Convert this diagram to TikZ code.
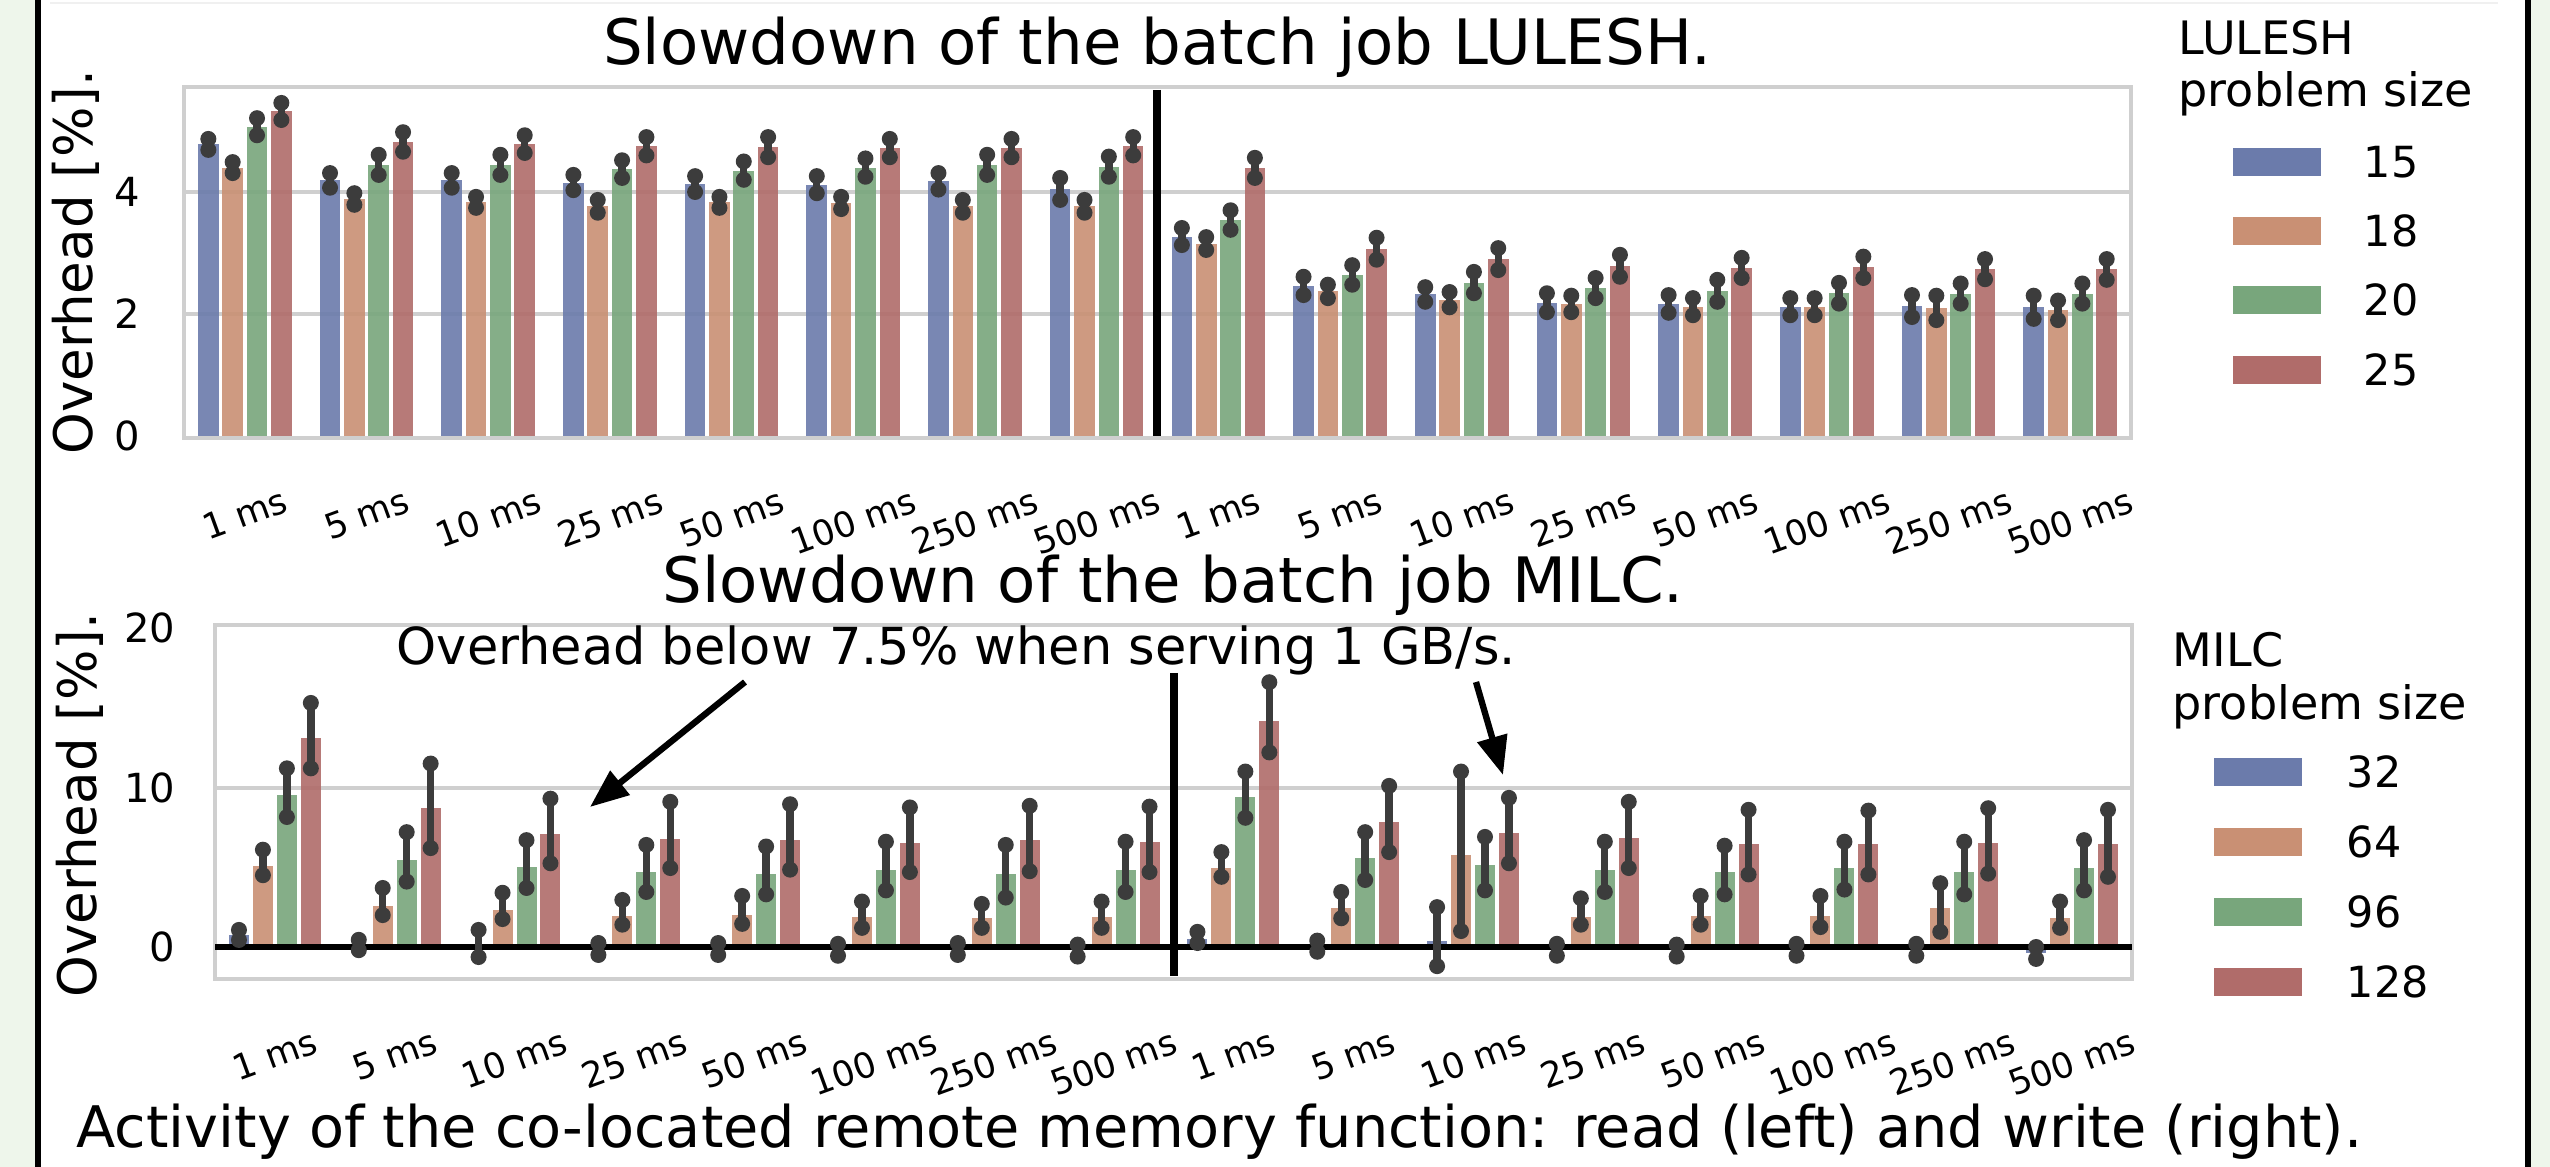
\documentclass[tikz,border=0pt]{standalone}
\usepackage{graphicx}
\usepackage{fontspec}
\setmainfont{DejaVu Sans}
\usetikzlibrary{arrows.meta}

\definecolor{barblue}{HTML}{6B7BAB}
\definecolor{barorange}{HTML}{C99074}
\definecolor{bargreen}{HTML}{78A67C}
\definecolor{barred}{HTML}{B06C6A}
\definecolor{errgray}{HTML}{3C3C3C}
\definecolor{gridgray}{HTML}{CFCFCF}
\definecolor{pagegreen}{HTML}{EEF6EB}

\tikzset{
  bar0/.style={fill=barblue},
  bar1/.style={fill=barorange},
  bar2/.style={fill=bargreen},
  bar3/.style={fill=barred},
  axframe/.style={draw=gridgray, line width=1.15pt},
  gridline/.style={gridgray, line width=1.15pt},
  errbar/.style={errgray, line width=2.1pt},
  divider/.style={black, line width=2.3pt},
  plottitle/.style={font=\fontsize{17.8}{20}\selectfont, inner sep=0pt, anchor=base},
  ylab/.style={font=\fontsize{15.1}{18}\selectfont, inner sep=0pt, rotate=90},
  ytick/.style={font=\fontsize{11.4}{13}\selectfont, inner sep=0pt, anchor=east},
  xtick/.style={font=\fontsize{10}{12}\selectfont, inner sep=0pt, anchor=north},
  legtitle/.style={font=\fontsize{13.1}{15}\selectfont, inner sep=0pt, anchor=base west},
  legtext/.style={font=\fontsize{12.2}{14}\selectfont, inner sep=0pt, anchor=west},
  legpatch/.style={minimum width=0.88cm, minimum height=0.28cm, inner sep=0pt},
  note/.style={font=\fontsize{14.5}{17}\selectfont, inner sep=0pt, anchor=base west},
  pointer/.style={black, line width=1.8pt, -{Triangle[length=11pt, width=8.5pt]}},
}

\begin{document}
\begin{tikzpicture}[x=0.01cm, y=-0.01cm]
  % page and side rules
  \fill[pagegreen] (0,0) rectangle (2550,1167);
  \fill[white] (40,0) rectangle (2525,1167);
  \fill[black] (35,0) rectangle (40.5,1167);
  \fill[black] (2525,0) rectangle (2530.5,1167);
  \draw[gray!12, line width=0.6pt] (50,3) -- (2498,3);

  % ---- LULESH axes
  \draw[gridline] (184,314) -- (2131,314);
  \draw[gridline] (184,192) -- (2131,192);
  \draw[axframe] (184,87) rectangle (2131,438);
  \foreach \lo/\hi [count=\k from 0] in {
      4.69/4.87, 4.31/4.49, 4.93/5.21, 5.18/5.46,
      4.07/4.31, 3.79/3.98, 4.28/4.61, 4.66/4.98,
      4.07/4.31, 3.74/3.92, 4.28/4.61, 4.64/4.93,
      4.03/4.28, 3.66/3.87, 4.23/4.52, 4.60/4.90,
      4.00/4.26, 3.74/3.92, 4.20/4.50, 4.57/4.90,
      3.98/4.26, 3.72/3.92, 4.25/4.55, 4.57/4.87,
      4.04/4.31, 3.66/3.87, 4.28/4.61, 4.57/4.87,
      3.87/4.23, 3.66/3.87, 4.25/4.58, 4.60/4.90,
      3.13/3.41, 3.05/3.26, 3.38/3.70, 4.23/4.56,
      2.31/2.61, 2.26/2.48, 2.48/2.80, 2.89/3.25,
      2.20/2.44, 2.11/2.36, 2.34/2.69, 2.72/3.08,
      2.03/2.34, 2.03/2.30, 2.26/2.59, 2.61/2.97,
      2.02/2.31, 1.98/2.26, 2.20/2.56, 2.59/2.92,
      1.98/2.26, 1.98/2.26, 2.17/2.51, 2.59/2.94,
      1.95/2.31, 1.90/2.30, 2.17/2.50, 2.57/2.90,
      1.92/2.30, 1.90/2.22, 2.17/2.50, 2.56/2.90} {
    \pgfmathtruncatemacro{\grp}{int(\k/4)}
    \pgfmathtruncatemacro{\idx}{\k-4*\grp}
    \pgfmathsetmacro{\xc}{184+(\grp+0.5)*121.69+(\idx-1.5)*24.34}
    \pgfmathsetmacro{\ytop}{436-61*(\lo+\hi)/2}
    \fill[bar\idx, fill opacity=0.9] (\xc-10.3,436) rectangle (\xc+10.3,\ytop);
    \draw[errbar] (\xc,{436-61*\lo}) -- (\xc,{436-61*\hi});
    \fill[errgray] (\xc,{436-61*\lo}) circle[radius=0.08cm];
    \fill[errgray] (\xc,{436-61*\hi}) circle[radius=0.08cm];
  }
  \draw[divider] (1157,90) -- (1157,436);

  \node[plottitle] (titleA) at (1157,65) {Slowdown of the batch job LULESH.};
  \node[ylab] (ylabA) at (76,262) {Overhead [\%].};
  \node[ytick] (tickA0) at (141,436) {0};
  \node[ytick] (tickA2) at (141,314) {2};
  \node[ytick] (tickA4) at (141,192) {4};

  % ---- MILC axes
  \draw[gridline] (215,788) -- (2132,788);
  \draw[axframe] (215,625) rectangle (2132,979);
  \foreach \m/\lo/\hi [count=\k from 0] in {
      0.75/0.44/1.07, 5.10/4.50/6.10, 9.50/8.15/11.2, 13.1/11.2/15.3,
      0.10/-0.2/0.45, 2.60/2.00/3.70, 5.45/4.10/7.20, 8.70/6.20/11.5,
      0.20/-0.63/1.07, 2.30/1.75/3.40, 5.00/3.70/6.70, 7.10/5.25/9.30,
      -0.1/-0.5/0.25, 1.95/1.40/2.95, 4.70/3.45/6.40, 6.80/4.95/9.10,
      -0.1/-0.5/0.25, 2.00/1.45/3.20, 4.55/3.30/6.30, 6.70/4.85/8.95,
      -0.15/-0.55/0.2, 1.85/1.20/2.85, 4.85/3.55/6.60, 6.50/4.70/8.75,
      -0.1/-0.5/0.25, 1.80/1.20/2.70, 4.55/3.10/6.40, 6.70/4.75/8.85,
      -0.2/-0.6/0.15, 1.90/1.20/2.85, 4.85/3.45/6.60, 6.60/4.70/8.80,
      0.50/0.25/0.95, 4.95/4.40/5.95, 9.40/8.10/11.0, 14.2/12.2/16.6,
      0.05/-0.3/0.40, 2.45/1.80/3.45, 5.55/4.20/7.20, 7.85/5.95/10.1,
      0.40/-1.2/2.50, 5.75/1.00/11.0, 5.15/3.55/6.90, 7.15/5.25/9.35,
      -0.15/-0.55/0.2, 1.90/1.40/3.05, 4.80/3.45/6.60, 6.85/4.95/9.10,
      -0.2/-0.6/0.15, 1.95/1.40/3.20, 4.70/3.30/6.35, 6.45/4.55/8.60,
      -0.15/-0.55/0.2, 1.95/1.25/3.20, 4.95/3.60/6.60, 6.45/4.55/8.55,
      -0.15/-0.55/0.2, 2.45/0.95/4.00, 4.70/3.30/6.60, 6.55/4.60/8.70,
      -0.35/-0.75/0.0, 1.80/1.20/2.85, 4.95/3.55/6.70, 6.45/4.40/8.60} {
    \pgfmathtruncatemacro{\grp}{int(\k/4)}
    \pgfmathtruncatemacro{\idx}{\k-4*\grp}
    \pgfmathsetmacro{\xc}{215+(\grp+0.5)*119.81+(\idx-1.5)*23.96}
    \fill[bar\idx, fill opacity=0.9] (\xc-10,947) rectangle (\xc+10,{947-15.95*\m});
  }
  \draw[black, line width=1.7pt] (215,947) -- (2132,947);
  \foreach \m/\lo/\hi [count=\k from 0] in {
      0.75/0.44/1.07, 5.10/4.50/6.10, 9.50/8.15/11.2, 13.1/11.2/15.3,
      0.10/-0.2/0.45, 2.60/2.00/3.70, 5.45/4.10/7.20, 8.70/6.20/11.5,
      0.20/-0.63/1.07, 2.30/1.75/3.40, 5.00/3.70/6.70, 7.10/5.25/9.30,
      -0.1/-0.5/0.25, 1.95/1.40/2.95, 4.70/3.45/6.40, 6.80/4.95/9.10,
      -0.1/-0.5/0.25, 2.00/1.45/3.20, 4.55/3.30/6.30, 6.70/4.85/8.95,
      -0.15/-0.55/0.2, 1.85/1.20/2.85, 4.85/3.55/6.60, 6.50/4.70/8.75,
      -0.1/-0.5/0.25, 1.80/1.20/2.70, 4.55/3.10/6.40, 6.70/4.75/8.85,
      -0.2/-0.6/0.15, 1.90/1.20/2.85, 4.85/3.45/6.60, 6.60/4.70/8.80,
      0.50/0.25/0.95, 4.95/4.40/5.95, 9.40/8.10/11.0, 14.2/12.2/16.6,
      0.05/-0.3/0.40, 2.45/1.80/3.45, 5.55/4.20/7.20, 7.85/5.95/10.1,
      0.40/-1.2/2.50, 5.75/1.00/11.0, 5.15/3.55/6.90, 7.15/5.25/9.35,
      -0.15/-0.55/0.2, 1.90/1.40/3.05, 4.80/3.45/6.60, 6.85/4.95/9.10,
      -0.2/-0.6/0.15, 1.95/1.40/3.20, 4.70/3.30/6.35, 6.45/4.55/8.60,
      -0.15/-0.55/0.2, 1.95/1.25/3.20, 4.95/3.60/6.60, 6.45/4.55/8.55,
      -0.15/-0.55/0.2, 2.45/0.95/4.00, 4.70/3.30/6.60, 6.55/4.60/8.70,
      -0.35/-0.75/0.0, 1.80/1.20/2.85, 4.95/3.55/6.70, 6.45/4.40/8.60} {
    \pgfmathtruncatemacro{\grp}{int(\k/4)}
    \pgfmathtruncatemacro{\idx}{\k-4*\grp}
    \pgfmathsetmacro{\xc}{215+(\grp+0.5)*119.81+(\idx-1.5)*23.96}
    \draw[errbar] (\xc,{947-15.95*\lo}) -- (\xc,{947-15.95*\hi});
    \fill[errgray] (\xc,{947-15.95*\lo}) circle[radius=0.08cm];
    \fill[errgray] (\xc,{947-15.95*\hi}) circle[radius=0.08cm];
  }
  \draw[divider] (1174,673) -- (1174,976);

  \node[plottitle] (titleB) at (1173,603) {Slowdown of the batch job MILC.};
  \node[ylab] (ylabB) at (80,805) {Overhead [\%].};
  \node[ytick] (tickB0) at (176,947) {0};
  \node[ytick] (tickB10) at (176,788) {10};
  \node[ytick] (tickB20) at (176,628) {20};

  % x tick labels, read half then write half
  \foreach \t [count=\i from 0] in {1,5,10,25,50,100,250,500,1,5,10,25,50,100,250,500} {
    \node[xtick] (xa\i) at ({184+(\i+0.5)*121.69},486) {\rotatebox{20}{\t{} ms}};
    \node[xtick] (xb\i) at ({215+(\i+0.5)*119.81},1027) {\rotatebox{20}{\t{} ms}};
  }

  % annotation
  \node[note] (remark) at (396,665) {Overhead below 7.5\% when serving 1 GB/s.};
  \coordinate (fromL) at (745,682);
  \coordinate (toL) at (590,807);
  \coordinate (fromR) at (1476,682);
  \coordinate (toR) at (1503,775);
  \draw[pointer] (fromL) -- (toL);
  \draw[pointer] (fromR) -- (toR);

  % legends
  \node[legtitle] (legA) at (2178,55) {LULESH};
  \node[legtitle] (legAsub) at (2178,107) {problem size};
  \node[legpatch, bar0] (pA1) at (2277,162) {};
  \node[legpatch, bar1] (pA2) at (2277,231) {};
  \node[legpatch, bar2] (pA3) at (2277,300) {};
  \node[legpatch, bar3] (pA4) at (2277,370) {};
  \node[legtext] (tA1) at (2363,162) {15};
  \node[legtext] (tA2) at (2363,231) {18};
  \node[legtext] (tA3) at (2363,300) {20};
  \node[legtext] (tA4) at (2363,370) {25};

  \node[legtitle] (legB) at (2172,667) {MILC};
  \node[legtitle] (legBsub) at (2172,720) {problem size};
  \node[legpatch, bar0] (pB1) at (2258,772) {};
  \node[legpatch, bar1] (pB2) at (2258,842) {};
  \node[legpatch, bar2] (pB3) at (2258,912) {};
  \node[legpatch, bar3] (pB4) at (2258,982) {};
  \node[legtext] (tB1) at (2346,772) {32};
  \node[legtext] (tB2) at (2346,842) {64};
  \node[legtext] (tB3) at (2346,912) {96};
  \node[legtext] (tB4) at (2346,982) {128};

  \node[font=\fontsize{16.3}{19}\selectfont, inner sep=0pt, anchor=base west] (caption) at (76,1147)
    {Activity of the co-located remote memory function: read (left) and write (right).};
\end{tikzpicture}
\end{document}
